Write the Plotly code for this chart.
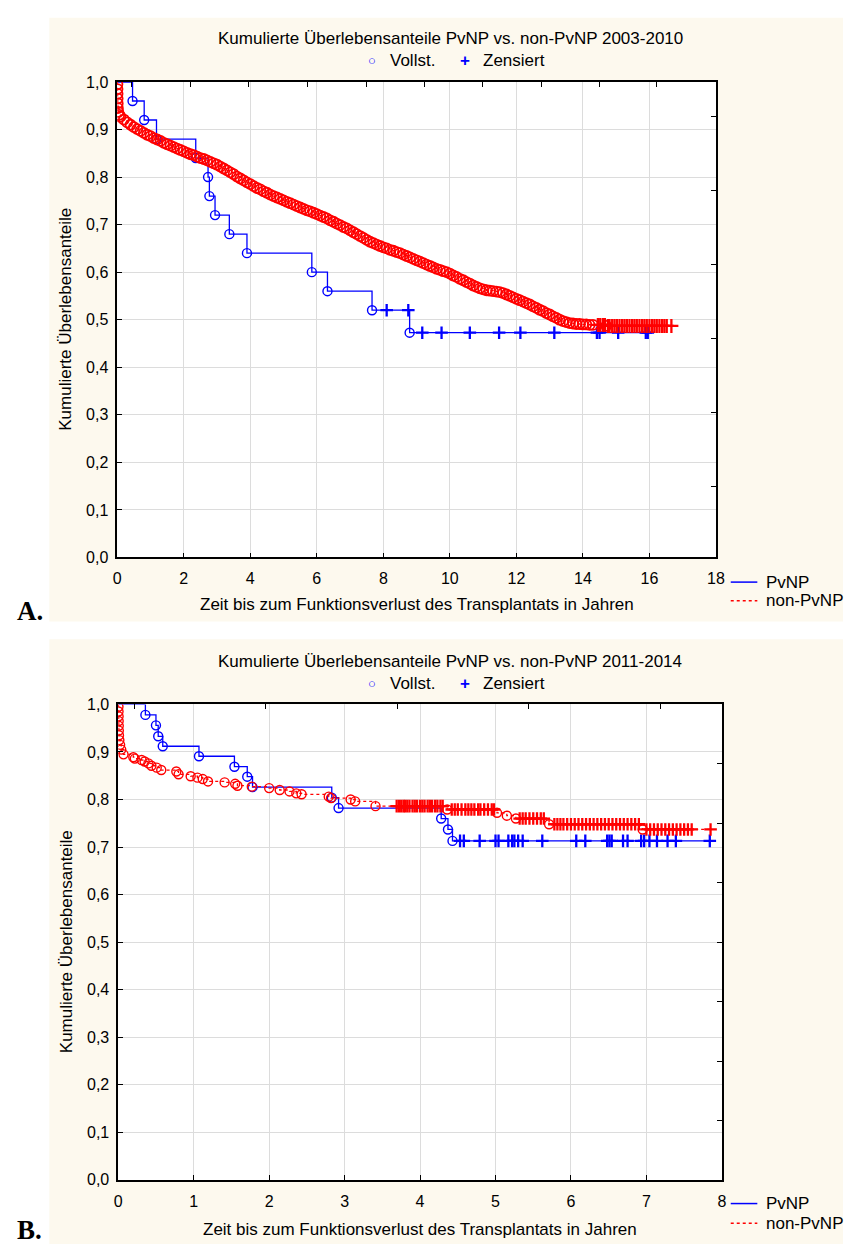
import plotly.graph_objects as go

# ---------------- DATA ----------------
# Panel A (2003-2010)
pvnp_a_event_t = [0.46, 0.81, 1.18, 2.36, 2.73, 2.77, 2.94, 3.37, 3.90, 5.85, 6.32, 7.66, 8.79]
pvnp_a_event_s = [0.96, 0.92, 0.88, 0.84, 0.80, 0.76, 0.72, 0.68, 0.64, 0.60, 0.56, 0.52, 0.4727]
pvnp_a_cens_t = [8.10, 8.75, 9.17, 9.75, 10.60, 11.48, 12.12, 13.14, 14.42, 14.50, 15.06, 15.89, 15.95]

non_a_event_t = [0.005, 0.008, 0.010, 0.012, 0.015, 0.020, 0.030, 0.06,
                 0.1, 0.2, 0.3, 0.4, 0.5, 0.6, 0.7, 0.8, 0.9, 1.0, 1.1, 1.2, 1.3, 1.4, 1.5, 1.6, 1.7,
                 1.8, 1.9, 2.0, 2.1, 2.2, 2.3, 2.4, 2.5, 2.6, 2.7, 2.8, 2.9, 3.0, 3.1, 3.2, 3.3, 3.4,
                 3.5, 3.6, 3.7, 3.8, 3.9, 4.0, 4.1, 4.2, 4.3, 4.4, 4.5, 4.6, 4.7, 4.8, 4.9, 5.0, 5.1,
                 5.2, 5.3, 5.4, 5.5, 5.6, 5.7, 5.8, 5.9, 6.0, 6.1, 6.2, 6.3, 6.4, 6.5, 6.6, 6.7, 6.8,
                 6.9, 7.0, 7.1, 7.2, 7.3, 7.4, 7.5, 7.6, 7.7, 7.8, 7.9, 8.0, 8.1, 8.2, 8.3, 8.4, 8.5,
                 8.6, 8.7, 8.8, 8.9, 9.0, 9.1, 9.2, 9.3, 9.4, 9.5, 9.6, 9.7, 9.8, 9.9, 10.0, 10.1,
                 10.2, 10.3, 10.4, 10.5, 10.6, 10.7, 10.8, 10.9, 11.0, 11.1, 11.2, 11.3, 11.4, 11.5,
                 11.6, 11.7, 11.8, 11.9, 12.0, 12.1, 12.2, 12.3, 12.4, 12.5, 12.6, 12.7, 12.8, 12.9,
                 13.0, 13.1, 13.2, 13.3, 13.4, 13.5, 13.6, 13.7, 13.8, 13.9, 14.0, 14.1, 14.2, 14.3,
                 14.7]
non_a_event_s = [0.995, 0.985, 0.975, 0.965, 0.955, 0.945, 0.937, 0.931,
                 0.927, 0.921, 0.915, 0.910, 0.905, 0.901, 0.897, 0.893, 0.889, 0.886, 0.882, 0.879,
                 0.876, 0.872, 0.869, 0.866, 0.863, 0.860, 0.857, 0.854, 0.851, 0.848, 0.846, 0.843,
                 0.840, 0.838, 0.835, 0.832, 0.829, 0.826, 0.822, 0.818, 0.814, 0.810, 0.806, 0.801,
                 0.797, 0.793, 0.789, 0.785, 0.781, 0.777, 0.774, 0.770, 0.767, 0.763, 0.760, 0.757,
                 0.754, 0.751, 0.748, 0.745, 0.742, 0.739, 0.736, 0.733, 0.730, 0.728, 0.725, 0.722,
                 0.719, 0.716, 0.713, 0.709, 0.706, 0.702, 0.699, 0.695, 0.692, 0.688, 0.684, 0.680,
                 0.676, 0.672, 0.668, 0.664, 0.661, 0.658, 0.655, 0.652, 0.650, 0.647, 0.645, 0.642,
                 0.640, 0.637, 0.634, 0.631, 0.628, 0.625, 0.622, 0.619, 0.616, 0.613, 0.610, 0.607,
                 0.605, 0.602, 0.600, 0.597, 0.593, 0.590, 0.586, 0.583, 0.579, 0.576, 0.572, 0.569,
                 0.566, 0.564, 0.562, 0.561, 0.560, 0.559, 0.558, 0.556, 0.553, 0.550, 0.547, 0.544,
                 0.541, 0.538, 0.535, 0.532, 0.528, 0.525, 0.521, 0.518, 0.514, 0.511, 0.507, 0.504,
                 0.500, 0.497, 0.495, 0.493, 0.492, 0.491, 0.491, 0.490, 0.490, 0.489, 0.489, 0.487]
non_a_cens_t = [14.45, 14.52, 14.60, 14.66, 14.75, 14.80, 14.88, 14.95, 15.02, 15.10, 15.18, 15.25,
                15.32, 15.40, 15.48, 15.55, 15.62, 15.70, 15.78, 15.85, 15.92, 16.00, 16.08, 16.15,
                16.22, 16.30, 16.38, 16.45, 16.52, 16.66]

# Panel B (2011-2014)
pvnp_b_event_t = [0.36, 0.50, 0.53, 0.59, 1.07, 1.54, 1.71, 1.78, 2.83, 2.92, 4.28, 4.37, 4.43]
pvnp_b_event_s = [0.978, 0.956, 0.933, 0.912, 0.891, 0.869, 0.848, 0.826, 0.804, 0.782, 0.760, 0.737, 0.713]
pvnp_b_cens_t = [4.53, 4.58, 4.79, 5.00, 5.04, 5.17, 5.22, 5.25, 5.30, 5.36, 5.62, 6.07, 6.19, 6.48,
                 6.51, 6.54, 6.69, 6.75, 6.93, 6.97, 7.04, 7.14, 7.28, 7.39, 7.84]

non_b_event_t = [0.003, 0.004, 0.005, 0.006, 0.007, 0.008, 0.010, 0.015, 0.025, 0.040, 0.07, 0.20,
                 0.22, 0.31, 0.35, 0.40, 0.44, 0.51, 0.57, 0.77, 0.80, 0.96, 1.05, 1.12, 1.19, 1.41,
                 1.55, 1.58, 1.77, 2.00, 2.14, 2.27, 2.36, 2.43, 2.79, 2.82, 3.08, 3.14, 3.41, 4.36,
                 5.02, 5.15, 5.27, 5.71, 6.95]
non_b_event_s = [0.995, 0.985, 0.975, 0.965, 0.955, 0.945, 0.935, 0.925, 0.915, 0.905, 0.895, 0.889,
                 0.886, 0.883, 0.880, 0.876, 0.871, 0.867, 0.862, 0.859, 0.853, 0.849, 0.846, 0.843,
                 0.838, 0.836, 0.833, 0.829, 0.827, 0.824, 0.820, 0.817, 0.813, 0.811, 0.806, 0.803,
                 0.800, 0.796, 0.786, 0.779, 0.772, 0.766, 0.760, 0.748, 0.737]
non_b_cens_t = [3.69, 3.72, 3.75, 3.78, 3.80, 3.83, 3.86, 3.90, 3.93, 3.96, 4.00, 4.03, 4.06, 4.10,
                4.13, 4.16, 4.20, 4.23, 4.27, 4.30, 4.42, 4.46, 4.50, 4.55, 4.60, 4.64, 4.68, 4.72,
                4.77, 4.80, 4.85, 4.90, 4.95, 4.98, 5.32, 5.36, 5.40, 5.45, 5.50, 5.55, 5.60, 5.64,
                5.78, 5.82, 5.86, 5.90, 5.95, 6.00, 6.05, 6.10, 6.15, 6.20, 6.25, 6.30, 6.35, 6.40,
                6.45, 6.50, 6.55, 6.60, 6.65, 6.70, 6.75, 6.80, 6.85, 6.90, 7.00, 7.05, 7.10, 7.15,
                7.20, 7.25, 7.30, 7.35, 7.40, 7.45, 7.50, 7.55, 7.60, 7.85]

y_tickvals = [0.0, 0.1, 0.2, 0.3, 0.4, 0.5, 0.6, 0.7, 0.8, 0.9, 1.0]
y_ticktext = ["0,0", "0,1", "0,2", "0,3", "0,4", "0,5", "0,6", "0,7", "0,8", "0,9", "1,0"]
x_ticks_a = [0, 2, 4, 6, 8, 10, 12, 14, 16, 18]
x_ticks_b = [0, 1, 2, 3, 4, 5, 6, 7, 8]

title_a = "Kumulierte Überlebensanteile PvNP vs. non-PvNP 2003-2010"
title_b = "Kumulierte Überlebensanteile PvNP vs. non-PvNP 2011-2014"
y_title = "Kumulierte Überlebensanteile"
x_title = "Zeit bis zum Funktionsverlust des Transplantats in Jahren"
series_names = ["PvNP", "non-PvNP"]
marker_names = ["Vollst.", "Zensiert"]

# ---------------- HELPERS ----------------
W, H = 852, 1253
BLUE = "#0000FF"
RED = "#FF0000"
FONT = "Liberation Sans, Arial, sans-serif"


def px(x):
    return x / W


def py(y):
    return 1 - y / H


def km_value(ev_t, ev_s, t):
    s = 1.0
    for et, es in zip(ev_t, ev_s):
        if et <= t:
            s = es
    return s


def km_path(ev_t, ev_s, c_t):
    pts = [(0.0, 1.0)] + list(zip(ev_t, ev_s)) + [(t, km_value(ev_t, ev_s, t)) for t in c_t]
    pts.sort(key=lambda p: p[0])
    return [p[0] for p in pts], [p[1] for p in pts]


fig = go.Figure()


def add_group(xa, ya, ev_t, ev_s, c_t, color, dash, msize, mw):
    lx, ly = km_path(ev_t, ev_s, c_t)
    fig.add_trace(go.Scatter(x=lx, y=ly, mode="lines", line=dict(color=color, width=1.3, dash=dash, shape="hv"),
                             xaxis=xa, yaxis=ya, showlegend=False, hoverinfo="skip"))
    fig.add_trace(go.Scatter(x=ev_t, y=ev_s, mode="markers",
                             marker=dict(symbol="circle-open", size=msize, color=color, line=dict(width=mw, color=color)),
                             xaxis=xa, yaxis=ya, showlegend=False))
    fig.add_trace(go.Scatter(x=c_t, y=[km_value(ev_t, ev_s, t) for t in c_t], mode="markers",
                             marker=dict(symbol="cross-thin-open", size=msize, color=color, line=dict(width=2.3, color=color)),
                             xaxis=xa, yaxis=ya, showlegend=False))


add_group("x", "y", pvnp_a_event_t, pvnp_a_event_s, pvnp_a_cens_t, BLUE, "solid", 9, 1.4)
add_group("x", "y", non_a_event_t, non_a_event_s, non_a_cens_t, RED, "dot", 10, 1.8)
add_group("x2", "y2", pvnp_b_event_t, pvnp_b_event_s, pvnp_b_cens_t, BLUE, "solid", 9, 1.4)
add_group("x2", "y2", non_b_event_t, non_b_event_s, non_b_cens_t, RED, "dot", 9, 1.4)

# ---------------- LAYOUT ----------------
dom_a_x = [px(115), px(723)]
dom_a_y = [py(557), py(75)]
dom_b_x = [px(116), px(729)]
dom_b_y = [py(1188), py(706)]

tickfont = dict(family=FONT, size=16, color="black")
common_x = dict(showline=True, linecolor="black", linewidth=1.5, mirror=True, ticks="inside", ticklen=5,
                tickcolor="black", showgrid=True, gridcolor="#dcdcdc", gridwidth=1, zeroline=False,
                tickfont=tickfont, ticklabelstandoff=6)
common_y = dict(showline=True, linecolor="black", linewidth=1.5, mirror=True, ticks="inside", ticklen=5,
                tickcolor="black", showgrid=True, gridcolor="#dcdcdc", gridwidth=1, zeroline=False,
                tickfont=tickfont, tickvals=y_tickvals, ticktext=y_ticktext, range=[0, 1], ticklabelstandoff=4)

fig.update_layout(
    width=W, height=H, margin=dict(l=0, r=0, t=0, b=0),
    paper_bgcolor="white", plot_bgcolor="rgba(0,0,0,0)",
    showlegend=False,
    xaxis=dict(domain=dom_a_x, anchor="y", range=[0, 18], tickvals=x_ticks_a, **common_x),
    yaxis=dict(domain=dom_a_y, anchor="x", **common_y),
    xaxis2=dict(domain=dom_b_x, anchor="y2", range=[0, 8], tickvals=x_ticks_b, **common_x),
    yaxis2=dict(domain=dom_b_y, anchor="x2", **common_y),
    # secondary tick marks on top / right edges
    xaxis3=dict(overlaying="x", side="top", anchor="y", range=[0, 18], ticks="inside", ticklen=5,
                tickcolor="black", showticklabels=False, showgrid=False, zeroline=False, showline=False,
                tickvals=[0.44, 2.19, 3.96, 5.71, 7.49, 9.23, 10.98, 12.75, 14.5, 16.21]),
    yaxis3=dict(overlaying="y", side="right", anchor="x", range=[0, 1], ticks="inside", ticklen=5,
                tickcolor="black", showticklabels=False, showgrid=False, zeroline=False, showline=False,
                tickvals=[0.15, 0.305, 0.461, 0.616, 0.772, 0.927]),
    xaxis4=dict(overlaying="x2", side="top", anchor="y2", range=[0, 8], ticks="inside", ticklen=5,
                tickcolor="black", showticklabels=False, showgrid=False, zeroline=False, showline=False,
                tickvals=[0.213, 1.954, 3.695, 5.436, 7.18]),
    yaxis4=dict(overlaying="y2", side="right", anchor="x2", range=[0, 1], ticks="inside", ticklen=5,
                tickcolor="black", showticklabels=False, showgrid=False, zeroline=False, showline=False,
                tickvals=[0.125, 0.25, 0.375, 0.5, 0.625, 0.75, 0.875]),
)
for xa, ya in (("x3", "y3"), ("x4", "y4")):
    fig.add_trace(go.Scatter(x=[None], y=[None], xaxis=xa, yaxis=ya, showlegend=False))

shapes = [
    dict(type="rect", xref="paper", yref="paper", x0=px(46), x1=1, y0=py(622), y1=py(10),
         fillcolor="#FDF9EE", line=dict(width=0), layer="below"),
    dict(type="rect", xref="paper", yref="paper", x0=px(46), x1=1, y0=0, y1=py(640),
         fillcolor="#FDF9EE", line=dict(width=0), layer="below"),
    dict(type="rect", xref="paper", yref="paper", x0=dom_a_x[0], x1=dom_a_x[1], y0=dom_a_y[0], y1=dom_a_y[1],
         fillcolor="white", line=dict(width=0), layer="below"),
    dict(type="rect", xref="paper", yref="paper", x0=dom_b_x[0], x1=dom_b_x[1], y0=dom_b_y[0], y1=dom_b_y[1],
         fillcolor="white", line=dict(width=0), layer="below"),
]
for yl1, yl2 in ((582, 601), (1212, 1232)):
    shapes.append(dict(type="line", xref="paper", yref="paper", x0=px(738), x1=px(765), y0=py(yl1), y1=py(yl1),
                       line=dict(color=BLUE, width=1.5)))
    shapes.append(dict(type="line", xref="paper", yref="paper", x0=px(738), x1=px(765), y0=py(yl2), y1=py(yl2),
                       line=dict(color=RED, width=1.5, dash="dot")))
fig.update_layout(shapes=shapes)

ann = []


def txt(x, y, text, size=17, color="black", xanchor="center", angle=0, family=FONT):
    ann.append(dict(x=px(x), y=py(y), xref="paper", yref="paper", text=text, showarrow=False,
                    xanchor=xanchor, yanchor="middle", textangle=angle,
                    font=dict(family=family, size=size, color=color)))


for (ttl, yt, yl, ymid, yx, yleg1, yleg2, xc) in ((title_a, 31, 53, 316, 605, 582, 601, 419),
                                                    (title_b, 662, 685, 947, 1238, 1212, 1232, 422)):
    txt(453, yt, ttl)
    txt(374, yl, "○", size=13, color=BLUE)
    txt(390, yl, marker_names[0], xanchor="left")
    txt(468, yl, "<b>+</b>", size=17, color=BLUE)
    txt(484, yl, marker_names[1], xanchor="left")
    txt(63, ymid, y_title, angle=-90)
    txt(xc, yx, x_title)
    txt(772, yleg1, series_names[0], xanchor="left")
    txt(772, yleg2, series_names[1], xanchor="left")

txt(11, 611, "<b>A.</b>", size=27, xanchor="left", family="Liberation Serif, Times New Roman, serif")
txt(11, 1239, "<b>B.</b>", size=27, xanchor="left", family="Liberation Serif, Times New Roman, serif")
fig.update_layout(annotations=ann)

fig.write_html("out.html", config={"displayModeBar": False},
               post_script="document.body.style.margin='0';document.documentElement.style.overflow='hidden';")
